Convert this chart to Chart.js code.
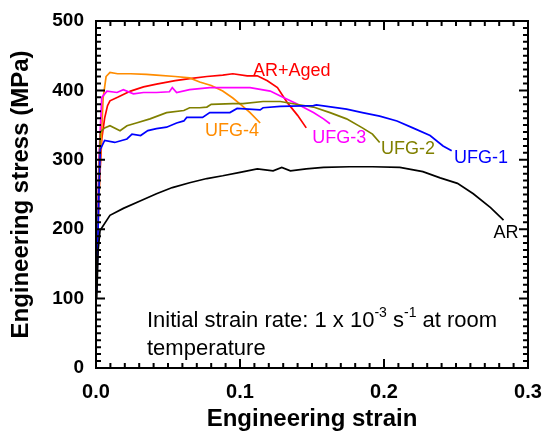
<!DOCTYPE html>
<html>
<head>
<meta charset="utf-8">
<script src="https://cdn.jsdelivr.net/npm/chart.js@4.4.1/dist/chart.umd.min.js"></script>
<style>
  html, body { margin: 0; padding: 0; background: #fff; }
  #wrap { width: 545px; height: 434px; }
</style>
</head>
<body>
<div id="wrap"><canvas id="ssChart" width="545" height="434"></canvas></div>
<script>
// values (strain, stress in MPa)
const arStrain = [0.0005, 0.0015, 0.0028, 0.0097, 0.019, 0.031, 0.042, 0.053, 0.065, 0.077, 0.088, 0.1, 0.112, 0.123, 0.129, 0.135, 0.146, 0.158, 0.176, 0.192, 0.211, 0.227, 0.239, 0.251, 0.262, 0.274, 0.283];
const arStress = [100, 170, 198, 220, 230, 241, 251, 260, 267, 273, 277, 282, 287, 284, 289, 284, 287, 289, 290, 290, 289, 283, 274, 266, 251, 231, 213];

const ufg1Strain = [0.0005, 0.002, 0.003, 0.006, 0.013, 0.0215, 0.025, 0.031, 0.036, 0.042, 0.049, 0.056, 0.061, 0.063, 0.074, 0.079, 0.093, 0.098, 0.114, 0.116, 0.128, 0.151, 0.153, 0.174, 0.185, 0.197, 0.209, 0.22, 0.232, 0.241, 0.247];
const ufg1Stress = [110, 250, 315, 328, 325, 330, 337, 335, 342, 345, 347, 353, 356, 361, 361, 368, 368, 374, 372, 375, 377, 378, 379, 373, 368, 363, 356, 346, 335, 320, 313];

const ufg2Strain = [0.0005, 0.002, 0.003, 0.006, 0.0097, 0.0167, 0.0215, 0.028, 0.0375, 0.049, 0.061, 0.065, 0.072, 0.077, 0.08, 0.095, 0.102, 0.116, 0.128, 0.142, 0.151, 0.1625, 0.174, 0.185, 0.192, 0.197];
const ufg2Stress = [120, 280, 340, 346, 349, 342, 349, 353, 359, 368, 371, 375, 375, 376, 380, 381, 381, 384, 384, 379, 376, 368, 359, 346, 337, 325];

const ufg3Strain = [0.0005, 0.002, 0.004, 0.0076, 0.0146, 0.019, 0.026, 0.033, 0.042, 0.051, 0.053, 0.056, 0.065, 0.079, 0.093, 0.107, 0.121, 0.128, 0.139, 0.151, 0.158, 0.1625];
const ufg3Stress = [150, 300, 390, 399, 397, 401, 395, 397, 397, 398, 404, 397, 401, 404, 404, 404, 399, 392, 381, 368, 359, 352];

const ufg4Strain = [0.0005, 0.003, 0.005, 0.007, 0.0097, 0.015, 0.024, 0.035, 0.042, 0.055, 0.065, 0.072, 0.08, 0.088, 0.095, 0.102, 0.107, 0.114];
const ufg4Stress = [150, 300, 390, 420, 426, 424, 424, 423, 422, 420, 418, 412, 407, 399, 389, 377, 368, 353];

const agedStrain = [0.0005, 0.002, 0.004, 0.006, 0.008, 0.0097, 0.015, 0.024, 0.033, 0.042, 0.055, 0.065, 0.077, 0.088, 0.095, 0.105, 0.112, 0.119, 0.126, 0.133, 0.14, 0.146];
const agedStress = [140, 250, 330, 360, 378, 385, 390, 399, 405, 409, 414, 417, 420, 422, 424, 421, 421, 414, 404, 382, 364, 346];

const seriesNames = ["AR", "UFG-1", "UFG-2", "UFG-3", "UFG-4", "AR+Aged"];
const seriesColors = ["#000000", "#0000ff", "#808000", "#ff00ff", "#ff8c00", "#ff0000"];
// label anchor points [strain, stress]
const labelSpots = [[0.2847, 195], [0.2674, 303], [0.2167, 316], [0.169, 332], [0.0944, 342], [0.136, 428]];

const xTicks = [0, 0.1, 0.2, 0.3];
const yTicks = [0, 100, 200, 300, 400, 500];
const xMinorStep = 0.01;
const yMinorStep = 10;

const pairs = (xs, ys) => xs.map((v, i) => ({ x: v, y: ys[i] }));
const allData = [
  pairs(arStrain, arStress),
  pairs(ufg1Strain, ufg1Stress),
  pairs(ufg2Strain, ufg2Stress),
  pairs(ufg3Strain, ufg3Stress),
  pairs(ufg4Strain, ufg4Stress),
  pairs(agedStrain, agedStress)
];

const FONT = "Arial, 'Liberation Sans', sans-serif";

// frame, inward ticks on all four sides, curve labels and note
const decorations = {
  id: "decorations",
  afterDraw(chart) {
    const ctx = chart.ctx;
    const a = chart.chartArea;
    const x = chart.scales.x, y = chart.scales.y;
    ctx.save();
    ctx.strokeStyle = "#000000";
    ctx.lineWidth = 2;
    ctx.beginPath();
    for (let i = 0; i <= 30; i++) {
      const px = x.getPixelForValue(i * xMinorStep);
      const len = i % 10 === 0 ? 9 : 5;
      ctx.moveTo(px, a.bottom);
      ctx.lineTo(px, a.bottom - len);
      ctx.moveTo(px, a.top);
      ctx.lineTo(px, a.top + len);
    }
    for (let i = 0; i <= 50; i++) {
      const py = y.getPixelForValue(i * yMinorStep);
      const len = i % 10 === 0 ? 9 : 5;
      ctx.moveTo(a.left, py);
      ctx.lineTo(a.left + len, py);
      ctx.moveTo(a.right, py);
      ctx.lineTo(a.right - len, py);
    }
    ctx.stroke();
    ctx.strokeRect(a.left, a.top, a.right - a.left, a.bottom - a.top);

    ctx.font = "18px " + FONT;
    ctx.textAlign = "center";
    ctx.textBaseline = "middle";
    seriesNames.forEach((name, i) => {
      ctx.fillStyle = seriesColors[i];
      ctx.fillText(name, x.getPixelForValue(labelSpots[i][0]), y.getPixelForValue(labelSpots[i][1]));
    });

    // note with superscripts
    ctx.fillStyle = "#000";
    ctx.textAlign = "left";
    ctx.textBaseline = "alphabetic";
    const big = "22px " + FONT, small = "14px " + FONT;
    const parts = [["Initial strain rate: 1 x 10", big, 0], ["-3", small, -10], [" s", big, 0], ["-1", small, -10], [" at room", big, 0]];
    let cx = 147;
    parts.forEach(([t, f, dy]) => {
      ctx.font = f;
      ctx.fillText(t, cx, 327 + dy);
      cx += ctx.measureText(t).width;
    });
    ctx.font = big;
    ctx.fillText("temperature", 147, 355);
    ctx.restore();
  }
};

new Chart(document.getElementById("ssChart"), {
  type: "scatter",
  data: {
    datasets: allData.map((d, i) => ({
      label: seriesNames[i],
      data: d,
      showLine: true,
      borderColor: seriesColors[i],
      backgroundColor: seriesColors[i],
      borderWidth: 1.7,
      pointRadius: 0,
      tension: 0
    }))
  },
  options: {
    responsive: false,
    animation: false,
    layout: { padding: { left: 0, top: 21, right: 17, bottom: 0 } },
    plugins: { legend: { display: false }, tooltip: { enabled: false } },
    scales: {
      x: {
        type: "linear",
        min: 0,
        max: 0.3,
        grid: { display: false, drawTicks: false },
        border: { display: false },
        afterBuildTicks: s => { s.ticks = xTicks.map(v => ({ value: v })); },
        afterFit: s => { s.height = 66; s.paddingLeft = 0; s.paddingRight = 0; },
        ticks: {
          padding: 12,
          color: "#000",
          font: { family: FONT, size: 20, weight: "bold" },
          callback: v => v.toFixed(1)
        },
        title: {
          display: true,
          text: "Engineering strain",
          color: "#000",
          font: { family: FONT, size: 24, weight: "bold" },
          padding: { top: 0, bottom: 0 }
        }
      },
      y: {
        min: 0,
        max: 500,
        grid: { display: false, drawTicks: false },
        border: { display: false },
        afterBuildTicks: s => { s.ticks = yTicks.map(v => ({ value: v })); },
        afterFit: s => { s.width = 96; s.paddingTop = 0; s.paddingBottom = 0; },
        ticks: {
          padding: 12,
          color: "#000",
          font: { family: FONT, size: 19, weight: "bold" }
        },
        title: {
          display: true,
          text: "Engineering stress (MPa)",
          color: "#000",
          font: { family: FONT, size: 24, weight: "bold" },
          padding: { top: 7, bottom: 0 }
        }
      }
    }
  },
  plugins: [decorations]
});
</script>
</body>
</html>
